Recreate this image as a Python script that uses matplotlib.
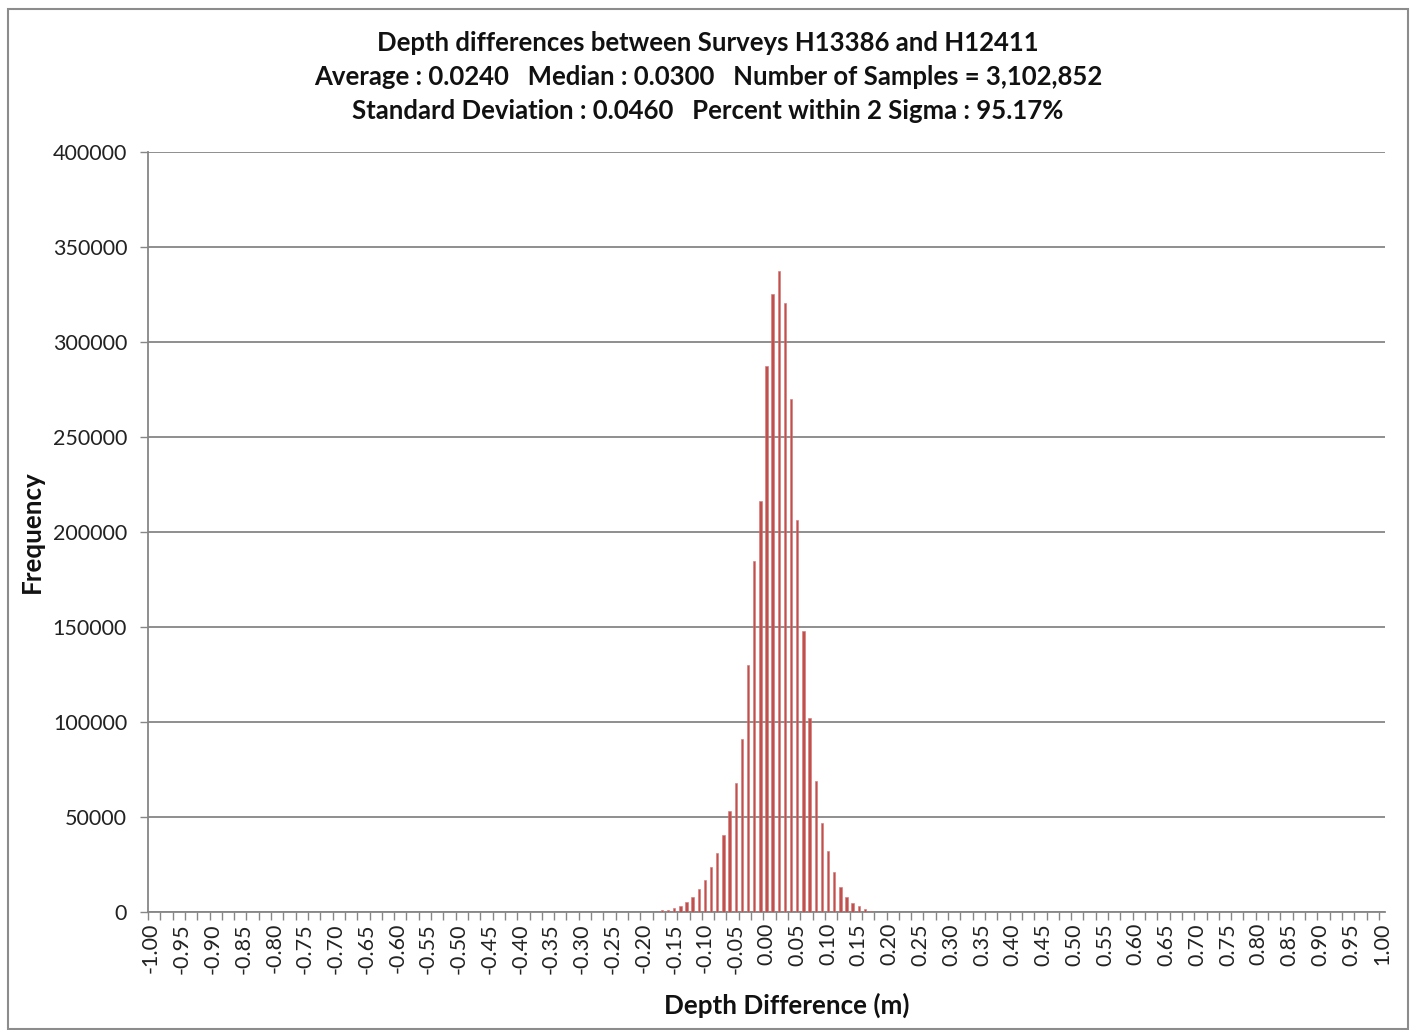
#!/usr/bin/env python

"""
Histogram of depth differences between two hydrographic surveys,
drawn in the style of an Excel column chart.
"""

import numpy as np
import matplotlib
matplotlib.use("Agg")
import matplotlib.pyplot as plt
from matplotlib.patches import Rectangle

# bin centres in metres, -1.00 .. 1.00 every 0.01
bins = np.round(np.arange(-100, 101) * 0.01, 2)

# counts for the bins -0.17 .. 0.17, all others are ~0
centre_bins = np.round(np.arange(-17, 18) * 0.01, 2)
centre_counts = [
    900, 1300, 2000, 3300, 5500, 8000, 12200, 17100, 23500, 31000,
    40300, 53400, 68100, 91300, 130100, 184700, 216400, 287500, 325000,
    337400, 320600, 269800, 206200, 147700, 102000, 69200, 46800, 32100,
    21100, 13100, 8000, 4900, 2900, 1600, 700,
]

title_lines = [
    "Depth differences between Surveys H13386 and H12411",
    "Average : 0.0240   Median : 0.0300   Number of Samples = 3,102,852",
    "Standard Deviation : 0.0460   Percent within 2 Sigma : 95.17%",
]

counts = np.zeros(len(bins))
for b, c in zip(centre_bins, centre_counts):
    counts[np.argmin(np.abs(bins - b))] = c

plt.rcParams["font.family"] = ["Lato", "DejaVu Sans"]

W, H = 1413, 1030
fig = plt.figure(figsize=(W / 100, H / 100), dpi=100)

# plot area in pixels: left 148, right 1385, top 152, bottom 912
ax = fig.add_axes([148 / W, 1 - 912 / H, (1385 - 148) / W, (912 - 152) / H])

grid_col = "#868686"
pos = np.arange(len(bins))
ax.bar(pos, counts, width=0.38, color="#C0504D", edgecolor="#D47572",
       linewidth=0.4, zorder=3)

ax.set_xlim(-0.5, len(bins) - 0.5)
ax.set_ylim(0, 400000)
ax.set_yticks(np.arange(0, 400001, 50000))
ax.set_yticklabels([str(v) for v in range(0, 400001, 50000)])
ax.grid(axis="y", color=grid_col, linewidth=1.3, zorder=0)

ax.set_xticks(pos[::5])
ax.set_xticklabels(["{:.2f}".format(v) if abs(v) > 1e-9 else "0.00"
                    for v in bins[::5]], rotation=90)
ax.set_xticks(np.arange(-0.5, len(bins), 2), minor=True)

ax.tick_params(axis="x", which="major", length=0, pad=8, labelsize=15.5,
               colors="#222222")
ax.tick_params(axis="x", which="minor", length=6, color=grid_col, width=1)
ax.tick_params(axis="y", length=6, color=grid_col, width=1, pad=9,
               labelsize=15.5, colors="#222222")

for side in ["top", "right"]:
    ax.spines[side].set_visible(False)
for side in ["left", "bottom"]:
    ax.spines[side].set_color(grid_col)
    ax.spines[side].set_linewidth(1.3)

for i, line in enumerate(title_lines):
    fig.text(708 / W, 1 - (43 + 34 * i) / H, line, ha="center", va="center",
             fontsize=18.5, fontweight="bold", color="#111111")

fig.text(787 / W, 1 - 1005 / H, "Depth Difference (m)", ha="center",
         va="center", fontsize=18.7, fontweight="bold", color="#111111")
fig.text(32 / W, 1 - 532 / H, "Frequency", ha="center", va="center",
         rotation=90, fontsize=18.7, fontweight="bold", color="#111111")

# chart border
fig.patches.append(Rectangle((8 / W, 1 - 1029 / H), 1400 / W, 1020 / H,
                             transform=fig.transFigure, fill=False,
                             edgecolor="#8c8c8c", linewidth=1.5))

fig.savefig("out.png", dpi=100)
plt.close(fig)
